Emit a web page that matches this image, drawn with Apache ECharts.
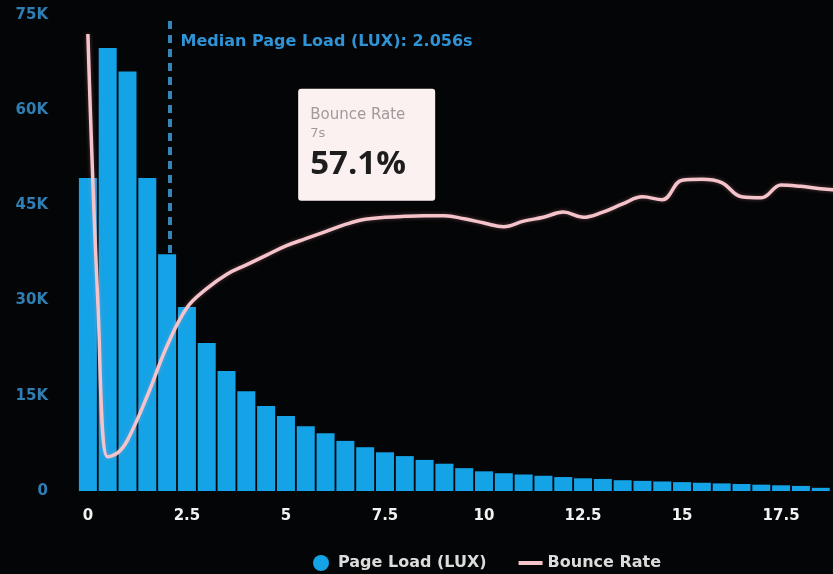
<!DOCTYPE html>
<html>
<head>
<meta charset="utf-8">
<script src="https://cdn.jsdelivr.net/npm/echarts@6/dist/echarts.min.js"></script>
<style>
html,body{margin:0;padding:0;background:#040506;}
#chart{width:833px;height:574px;}
</style>
</head>
<body>
<div id="chart"></div>
<script>
// Page load histogram bins (seconds, bin start)
const loadBins = [0,0.5,1,1.5,2,2.5,3,3.5,4,4.5,5,5.5,6,6.5,7,7.5,8,8.5,9,9.5,10,10.5,11,11.5,12,12.5,13,13.5,14,14.5,15,15.5,16,16.5,17,17.5,18,18.5];
// Page views per bin
const pageLoads = [49300,69800,66100,49300,37300,29000,23300,18900,15700,13400,11800,10200,9100,7900,6900,6100,5500,4900,4300,3600,3100,2800,2600,2400,2200,2000,1900,1700,1600,1500,1400,1300,1200,1100,1000,900,800,500];
// Bounce rate (%) read along load time
const bounceX = [0,0.25,0.5,0.75,1,1.5,2,2.5,3,3.5,4,4.5,5,5.5,6,6.5,7,7.5,8,8.5,9,9.5,10,10.5,11,11.5,12,12.5,13,13.5,14,14.5,15,15.5,16,16.5,17,17.5,18,18.5,19];
const bounceRate = [96,40,7.2,8.0,10.7,20,30.5,38.5,42.5,45.5,47.5,49.5,51.5,53,54.5,56,57.1,57.5,57.7,57.8,57.8,57.2,56.3,55.5,56.7,57.5,58.6,57.5,58.6,60.3,61.8,61.2,65.3,65.5,64.8,61.8,61.6,64.3,64,63.5,63.2];
const xTicks = [0,2.5,5,7.5,10,12.5,15,17.5];
const yTicks = [0,15000,30000,45000,60000,75000];
const medianLoad = 2.056;
const highlight = {x: 7, rate: 57.1};

const FONT = 'DejaVu Sans';
const chart = echarts.init(document.getElementById('chart'));
chart.setOption({
  backgroundColor: '#040506',
  animation: false,
  textStyle: {fontFamily: FONT},
  grid: {left: 76, right: 0, top: 15, bottom: 83},
  legend: {
    left: 308, top: 550,
    itemGap: 32, itemWidth: 24, itemHeight: 16,
    textStyle: {color: '#dcdcdc', fontSize: 16, fontWeight: 'bold', fontFamily: FONT},
    data: [
      {name: 'Page Load (LUX)', icon: 'circle'},
      {name: 'Bounce Rate', icon: 'path://M0,0L24,0L24,4L0,4Z', itemStyle: {color: '#f5c4cb'}}
    ]
  },
  xAxis: {
    type: 'value', min: -0.3, max: 18.81,
    axisLine: {show: false}, axisTick: {show: false}, splitLine: {show: false},
    axisLabel: {
      customValues: xTicks, color: '#f2f2f2', fontSize: 15, fontWeight: 'bold',
      margin: 18, formatter: v => String(v)
    }
  },
  yAxis: [{
    type: 'value', min: 0, max: 75000, interval: 15000,
    splitLine: {show: false}, axisLine: {show: false}, axisTick: {show: false},
    axisLabel: {color: '#2f7fb5', fontSize: 15, fontWeight: 'bold', margin: 28,
      formatter: v => v === 0 ? '0' : (v / 1000) + 'K'}
  }, {
    type: 'value', min: 0, max: 100, show: false
  }],
  series: [{
    name: 'Page Load (LUX)', type: 'bar', z: 2,
    barWidth: 18,
    itemStyle: {color: '#14a3e6'},
    data: loadBins.map((x, i) => [x, pageLoads[i]]),
    markLine: {
      z: 1, silent: true, symbol: 'none',
      lineStyle: {color: '#3486b8', type: [8, 6], width: 4},
      label: {
        show: true, position: 'end', align: 'left', offset: [11, 40],
        color: '#2f93d6', fontSize: 16, fontWeight: 'bold', fontFamily: FONT,
        formatter: 'Median Page Load (LUX): ' + medianLoad + 's'
      },
      data: [{xAxis: medianLoad}]
    }
  }, {
    name: 'Bounce Rate', type: 'line', yAxisIndex: 1, z: 3,
    smooth: 0.4, symbol: 'none',
    lineStyle: {color: '#f5c4cb', width: 3.5, shadowColor: 'rgba(255,160,180,0.35)', shadowBlur: 4},
    itemStyle: {color: '#f5c4cb'},
    data: bounceX.map((x, i) => [x, bounceRate[i]]),
    markPoint: {
      symbol: 'circle', symbolSize: 1,
      itemStyle: {color: 'rgba(0,0,0,0)'},
      label: {
        show: true, position: 'top', distance: 18, offset: [-67, 0],
        backgroundColor: '#fcf1f1', borderRadius: 3,
        padding: [16, 12, 14, 12], width: 113, align: 'left',
        formatter: () => '{t|Bounce Rate}\n{s|' + highlight.x + 's}\n{v|' + highlight.rate + '%}',
        rich: {
          t: {color: '#a09a9a', fontSize: 15, lineHeight: 20, fontFamily: FONT},
          s: {color: '#a09a9a', fontSize: 13, lineHeight: 18, fontFamily: FONT},
          v: {color: '#1d1d1d', fontSize: 33, fontWeight: 'bold', lineHeight: 44, fontFamily: 'Open Sans'}
        }
      },
      data: [{coord: [highlight.x, highlight.rate], value: highlight.rate}]
    }
  }]
});
</script>
</body>
</html>
